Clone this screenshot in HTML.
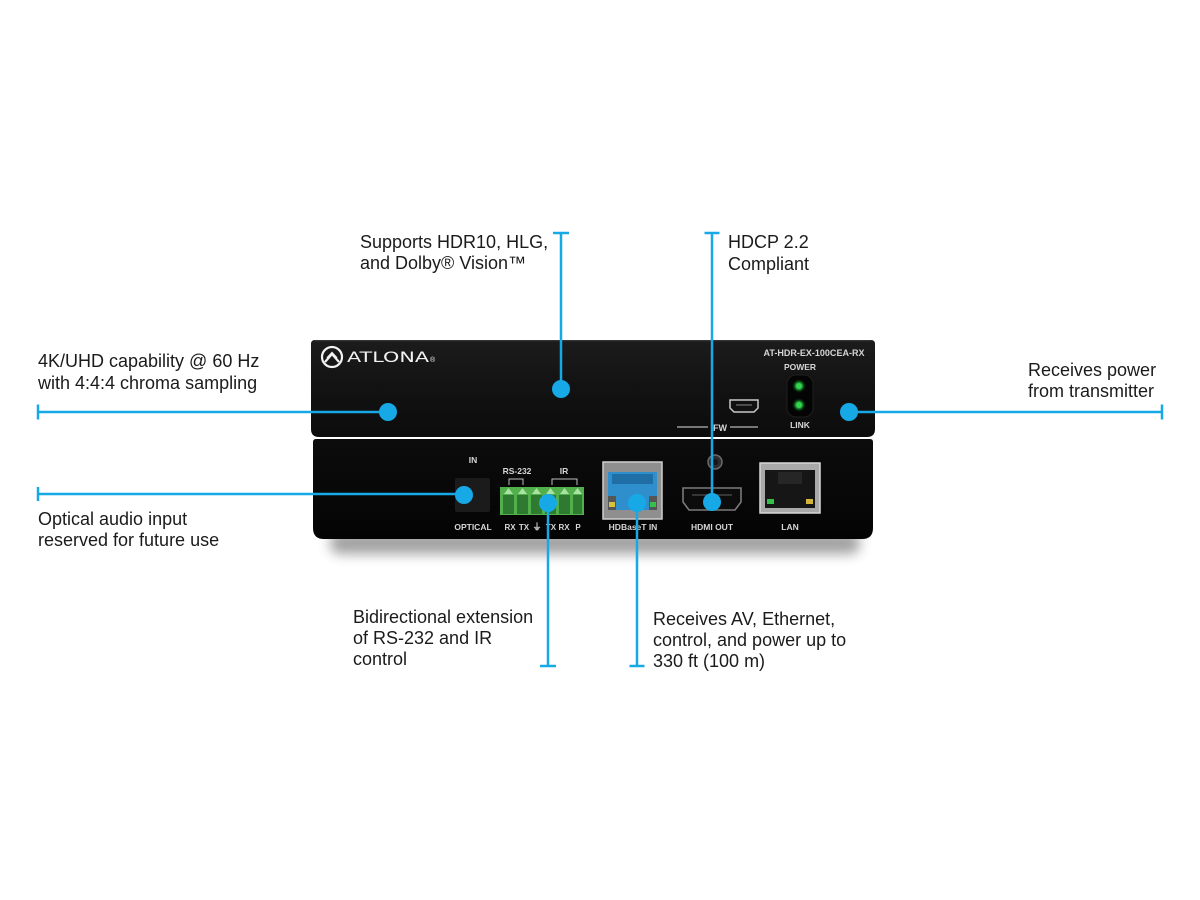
<!DOCTYPE html>
<html>
<head>
<meta charset="utf-8">
<style>
  html,body{margin:0;padding:0;background:#fff;}
  body{width:1200px;height:900px;overflow:hidden;}
  svg{display:block;}
  .t{font-family:"Liberation Sans",Arial,sans-serif;font-size:18px;fill:#1b1b1b;}
  .d{font-family:"Liberation Sans",Arial,sans-serif;font-weight:bold;fill:#d6d6d6;text-anchor:middle;}
</style>
</head>
<body>
<svg width="1200" height="900" viewBox="0 0 1200 900" xmlns="http://www.w3.org/2000/svg">
  <defs>
    <linearGradient id="topg" x1="0" y1="0" x2="0" y2="1">
      <stop offset="0" stop-color="#1c1c1c"/>
      <stop offset="0.5" stop-color="#121212"/>
      <stop offset="1" stop-color="#0c0c0c"/>
    </linearGradient>
    <linearGradient id="botg" x1="0" y1="0" x2="0" y2="1">
      <stop offset="0" stop-color="#0c0c0c"/>
      <stop offset="1" stop-color="#040404"/>
    </linearGradient>
    <filter id="blur" x="-10%" y="-100%" width="120%" height="300%">
      <feGaussianBlur stdDeviation="6"/>
    </filter>
    <filter id="glow" x="-100%" y="-100%" width="300%" height="300%">
      <feGaussianBlur stdDeviation="1.2"/>
    </filter>
  </defs>

  <!-- shadow under device -->
  <rect x="330" y="532" width="530" height="22" rx="10" fill="#8a8a8a" filter="url(#blur)" opacity="0.8"/>

  <!-- bottom unit -->
  <path d="M316,439 H870 Q873,439 873,442 V528 Q873,539 862,539 H324 Q313,539 313,528 V442 Q313,439 316,439 Z" fill="url(#botg)"/>
  <!-- top unit -->
  <path d="M315,340 H871 Q875,340 875,344 V429 Q875,437 867,437 H319 Q311,437 311,429 V344 Q311,340 315,340 Z" fill="url(#topg)"/>
  <line x1="315" y1="340.7" x2="871" y2="340.7" stroke="#3a3a3a" stroke-width="1"/>

  <!-- logo -->
  <circle cx="332" cy="357" r="10" fill="none" stroke="#f2f2f2" stroke-width="2.2"/>
  <path d="M325,362 L332,354 L339,362" fill="none" stroke="#f2f2f2" stroke-width="2.2"/>
  <path d="M327,358 L332,352.5 L337,358" fill="none" stroke="#f2f2f2" stroke-width="1.4"/>
  <text x="347" y="362" font-family="DejaVu Sans, Liberation Sans, sans-serif" font-size="14" fill="#f2f2f2" textLength="82" lengthAdjust="spacingAndGlyphs">ATLONA</text>
  <text x="430" y="362" font-family="Liberation Sans, Arial, sans-serif" font-size="7" fill="#f2f2f2">®</text>

  <!-- top unit right side -->
  <text class="d" x="814" y="356" font-size="9" textLength="101" lengthAdjust="spacingAndGlyphs">AT-HDR-EX-100CEA-RX</text>
  <text class="d" x="800" y="370" font-size="8.5">POWER</text>
  <rect x="787" y="375" width="26" height="42" rx="9" fill="#040404" stroke="#1f1f1f" stroke-width="1"/>
  <circle cx="799" cy="386" r="4.5" fill="#1fbf3a" filter="url(#glow)"/>
  <circle cx="799" cy="386" r="3" fill="#36d24f"/>
  <circle cx="799" cy="405" r="4.5" fill="#1fbf3a" filter="url(#glow)"/>
  <circle cx="799" cy="405" r="3" fill="#36d24f"/>
  <text class="d" x="800" y="428" font-size="8.5">LINK</text>

  <!-- mini usb -->
  <path d="M730,400 H758 V408 L754,412 H734 L730,408 Z" fill="#111" stroke="#c8c8c8" stroke-width="1.5"/>
  <line x1="736" y1="405" x2="752" y2="405" stroke="#888" stroke-width="1"/>
  <!-- FW -->
  <line x1="677" y1="427" x2="708" y2="427" stroke="#9a9a9a" stroke-width="1.6"/>
  <line x1="730" y1="427" x2="758" y2="427" stroke="#9a9a9a" stroke-width="1.6"/>
  <text class="d" x="720" y="431" font-size="9">FW</text>

  <!-- bottom unit ports -->
  <text class="d" x="473" y="463" font-size="8.5">IN</text>
  <rect x="455" y="478" width="35" height="34" rx="2" fill="#1b1b1b"/>
  <text class="d" x="473" y="530" font-size="8.5">OPTICAL</text>

  <text class="d" x="517" y="474" font-size="8.5">RS-232</text>
  <text class="d" x="564" y="474" font-size="8.5">IR</text>
  <path d="M509,485 V479 H523 V485" fill="none" stroke="#bdbdbd" stroke-width="1"/>
  <path d="M552,485 V479 H577 V485" fill="none" stroke="#bdbdbd" stroke-width="1"/>

  <!-- terminal block -->
  <rect x="500" y="487" width="84" height="28" fill="#52b04c"/>
  <g fill="#2d7a30">
    <rect x="503" y="495" width="11" height="19"/>
    <rect x="517" y="495" width="11" height="19"/>
    <rect x="531" y="495" width="11" height="19"/>
    <rect x="545" y="495" width="11" height="19"/>
    <rect x="559" y="495" width="11" height="19"/>
    <rect x="573" y="495" width="9" height="19"/>
  </g>
  <g fill="#a9e2a3">
    <path d="M504,494 L508.5,488 L513,494 Z"/>
    <path d="M518,494 L522.5,488 L527,494 Z"/>
    <path d="M532,494 L536.5,488 L541,494 Z"/>
    <path d="M546,494 L550.5,488 L555,494 Z"/>
    <path d="M560,494 L564.5,488 L569,494 Z"/>
    <path d="M573,494 L577.5,488 L582,494 Z"/>
  </g>
  <text class="d" x="510" y="530" font-size="8">RX</text>
  <text class="d" x="524" y="530" font-size="8">TX</text>
  <text class="d" x="537" y="530" font-size="9">⏚</text>
  <text class="d" x="551" y="530" font-size="8">TX</text>
  <text class="d" x="564" y="530" font-size="8">RX</text>
  <text class="d" x="578" y="530" font-size="8">P</text>

  <!-- HDBaseT -->
  <rect x="603" y="462" width="59" height="57" fill="#8f8f8f" stroke="#cfcfcf" stroke-width="1.5"/>
  <rect x="608" y="472" width="49" height="38" fill="#2f8fcc"/>
  <rect x="612" y="474" width="41" height="10" fill="#1f6fa6"/>
  <rect x="608" y="496" width="8" height="14" fill="#555"/>
  <rect x="649" y="496" width="8" height="14" fill="#555"/>
  <rect x="609" y="502" width="6" height="5" fill="#d8c23a"/>
  <rect x="650" y="502" width="6" height="5" fill="#36c24a"/>
  <text class="d" x="633" y="530" font-size="8.5">HDBaseT IN</text>

  <!-- screw -->
  <circle cx="715" cy="462" r="7" fill="#2b2b2b" stroke="#6b6b6b" stroke-width="1.5"/>
  <circle cx="715" cy="462" r="3" fill="#151515"/>

  <!-- HDMI -->
  <path d="M683,488 H741 V502 L735,510 H689 L683,502 Z" fill="#0c0c0c" stroke="#7a7a7a" stroke-width="1.6"/>
  <line x1="692" y1="495" x2="732" y2="495" stroke="#444" stroke-width="1.5"/>
  <text class="d" x="712" y="530" font-size="8.5">HDMI OUT</text>

  <!-- LAN -->
  <rect x="760" y="463" width="60" height="50" fill="#a9a9a9" stroke="#d8d8d8" stroke-width="1.5"/>
  <rect x="765" y="470" width="50" height="38" fill="#161616"/>
  <rect x="778" y="472" width="24" height="12" fill="#262626"/>
  <rect x="767" y="499" width="7" height="5" fill="#34c048"/>
  <rect x="806" y="499" width="7" height="5" fill="#d2b53a"/>
  <text class="d" x="790" y="530" font-size="8.5">LAN</text>

  <!-- callout lines -->
  <g stroke="#17a8e6" stroke-width="2.5" fill="none">
    <line x1="561" y1="233" x2="561" y2="389"/>
    <line x1="553" y1="233" x2="569" y2="233"/>
    <line x1="712" y1="233" x2="712" y2="502"/>
    <line x1="704.5" y1="233" x2="719.5" y2="233"/>
    <line x1="38" y1="412" x2="388" y2="412"/>
    <line x1="38" y1="404.5" x2="38" y2="419.5"/>
    <line x1="38" y1="494" x2="464" y2="494"/>
    <line x1="38" y1="487" x2="38" y2="501"/>
    <line x1="849" y1="412" x2="1162" y2="412"/>
    <line x1="1162" y1="404.5" x2="1162" y2="419.5"/>
    <line x1="548" y1="503" x2="548" y2="666"/>
    <line x1="540" y1="666" x2="556" y2="666"/>
    <line x1="637" y1="503" x2="637" y2="666"/>
    <line x1="629.5" y1="666" x2="644.5" y2="666"/>
  </g>
  <g fill="#17a8e6">
    <circle cx="561" cy="389" r="9"/>
    <circle cx="712" cy="502" r="9"/>
    <circle cx="388" cy="412" r="9"/>
    <circle cx="464" cy="495" r="9"/>
    <circle cx="849" cy="412" r="9"/>
    <circle cx="548" cy="503" r="9"/>
    <circle cx="637" cy="503" r="9"/>
  </g>

  <!-- callout text -->
  <text class="t" x="360" y="248">Supports HDR10, HLG,</text>
  <text class="t" x="360" y="269">and Dolby® Vision™</text>

  <text class="t" x="728" y="248">HDCP 2.2</text>
  <text class="t" x="728" y="270">Compliant</text>

  <text class="t" x="38" y="367">4K/UHD capability @ 60 Hz</text>
  <text class="t" x="38" y="389">with 4:4:4 chroma sampling</text>

  <text class="t" x="38" y="525">Optical audio input</text>
  <text class="t" x="38" y="546">reserved for future use</text>

  <text class="t" x="1028" y="376">Receives power</text>
  <text class="t" x="1028" y="397">from transmitter</text>

  <text class="t" x="353" y="623">Bidirectional extension</text>
  <text class="t" x="353" y="644">of RS-232 and IR</text>
  <text class="t" x="353" y="665">control</text>

  <text class="t" x="653" y="625">Receives AV, Ethernet,</text>
  <text class="t" x="653" y="646">control, and power up to</text>
  <text class="t" x="653" y="667">330 ft (100 m)</text>
</svg>
</body>
</html>
